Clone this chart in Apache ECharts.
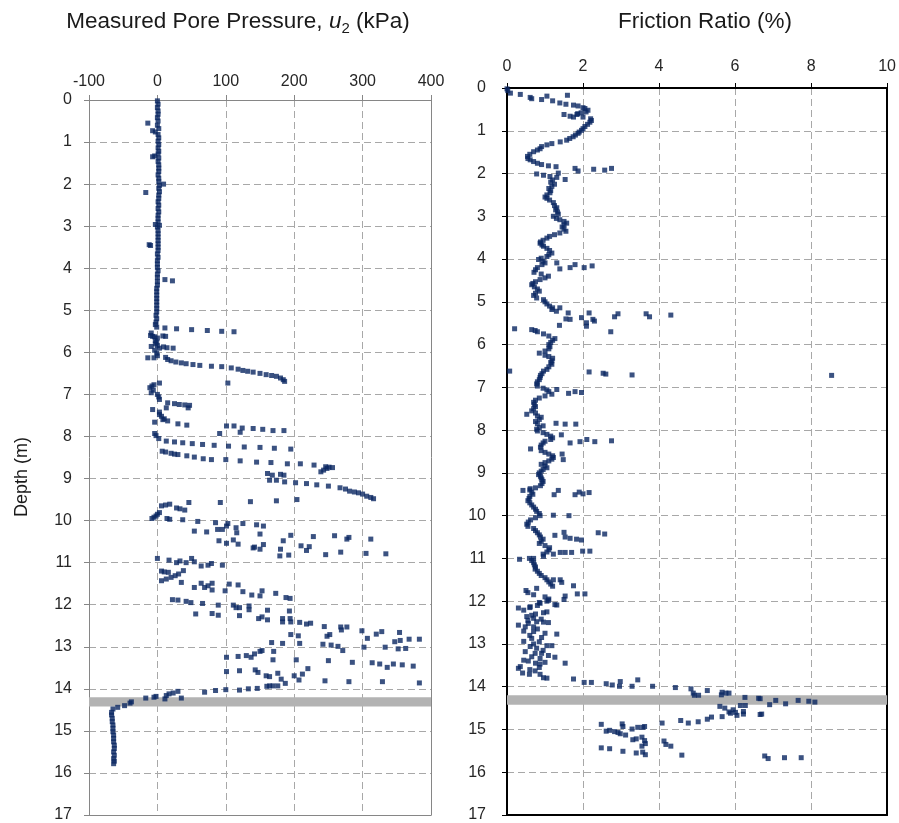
<!DOCTYPE html>
<html><head><meta charset="utf-8">
<script src="https://cdn.jsdelivr.net/npm/echarts@6/dist/echarts.min.js"></script>
<style>html,body{margin:0;padding:0;background:#fff}#c{width:899px;height:823px}</style>
</head><body><div id="c"></div>
<script>
// ---------- axis ticks ----------
const depthTicks = [0,1,2,3,4,5,6,7,8,9,10,11,12,13,14,15,16,17];
const u2Ticks = [-100,0,100,200,300,400];
const frTicks = [0,2,4,6,8,10];
const bandDepth = [14.2, 14.42];

// ---------- Measured pore pressure u2 [kPa, depth m] ----------
const u2Upper = [
[0,0.02],[1,0.1],[0,0.18],[1,0.26],[1,0.34],[0,0.42],[1,0.5],[-14,0.55],[0,0.6],[2,0.68],[-7,0.73],[-3,0.76],[1,0.82],[2,0.9],[1,0.98],[2,1.06],[1,1.14],[2,1.22],[1,1.28],[-4,1.33],[-7,1.35],[2,1.38],[1,1.46],[2,1.54],[2,1.62],[2,1.7],[1,1.78],[2,1.86],[2,1.94],[9,2.0],[3,2.03],[2,2.1],[-17,2.2],[3,2.18],[2,2.26],[2,2.34],[1,2.42],[2,2.5],[1,2.58],[2,2.66],[1,2.74],[1,2.82],[1,2.9],[-3,2.96],[3,2.98],[0,3.02],[1,3.1],[1,3.18],[1,3.26],[1,3.34],[-12,3.44],[-10,3.46],[1,3.42],[1,3.5],[1,3.58],[0,3.66],[1,3.74],[0,3.82],[0,3.9],[0,3.98],[1,4.06],[0,4.14],[0,4.22],[11,4.27],[22,4.3],[0,4.32],[0,4.4],[-1,4.48],[-1,4.56],[-1,4.64],[-1,4.72],[-1,4.8],[-1,4.88],[-1,4.96],[-1,5.04],[-2,5.12],[-1,5.2],[-2,5.28],[-3,5.34],[-1,5.4]
];
const u2Shallow = [
[11,5.42],[28,5.44],[50,5.46],[73,5.48],[94,5.5],[112,5.51],
[-9,5.54],[-10,5.6],[-7,5.62],[-4,5.63],[0,5.66],[8,5.61],[12,5.62],[-3,5.72],[-1,5.76],[-3,5.8],[0,5.84],[-9,5.86],[3,5.9],[-4,5.95],[9,5.87],[14,5.89],[23,5.9],[-1,6.02],[0,6.08],[-14,6.13],[-5,6.13],[12,6.12],[15,6.17],[20,6.2],[27,6.23],[35,6.25],[42,6.27],[52,6.29],[62,6.31],[79,6.33],[94,6.34],[108,6.37],[118,6.4],[125,6.43],[132,6.45],[140,6.47],[150,6.5],[159,6.53],[167,6.55],[174,6.57],[180,6.61],[184,6.65],[186,6.69],[103,6.73]
];
const u2Mid = [
[-11,6.84],[-8,6.8],[-5,6.77],[3,6.73],[-9,6.96],[-6,6.9],[0,7.0],[2,7.06],[3,7.12],[15,7.2],[25,7.22],[32,7.24],[40,7.25],[47,7.26],[45,7.32],[-7,7.36],[13,7.32],[3,7.42],[3,7.48],[6,7.52],[10,7.58],[8,7.6],[15,7.63],[-4,7.66],[30,7.7],[43,7.73],
[101,7.75],[112,7.75],[124,7.8],[121,7.9],[140,7.81],[154,7.83],[169,7.86],[185,7.86],[91,7.93],
[-4,7.93],[-2,7.98],[2,8.05],[13,8.11],[25,8.13],[37,8.15],[51,8.17],[66,8.19],[83,8.21],[104,8.23],[127,8.25],[150,8.26],[171,8.28],[195,8.3],
[7,8.35],[12,8.37],[20,8.4],[25,8.42],[30,8.43],[43,8.46],[54,8.49],[67,8.53],[79,8.55],[100,8.55],[121,8.58],[145,8.61],[166,8.62],[190,8.65],[209,8.65],[229,8.68],[246,8.72],[251,8.73],[256,8.74],[248,8.76],[243,8.8],[239,8.84]
];
const u2Deep = [
[161,8.88],[168,8.92],[180,8.9],[185,8.92],[164,9.04],[174,9.04],[186,9.08],[202,9.1],[218,9.12],[233,9.15],[250,9.18],[267,9.22],[275,9.25],[281,9.3],[288,9.32],[294,9.34],[300,9.37],[306,9.42],[312,9.45],[316,9.48],
[204,9.5],[174,9.53],[136,9.55],[92,9.57],[46,9.57],[18,9.61],[12,9.63],[6,9.65],[28,9.7],[33,9.72],[40,9.75],
[3,9.81],[0,9.85],[-2,9.89],[-5,9.92],[-8,9.95],[14,9.95],[18,9.97],
[37,9.98],[59,10.02],[85,10.05],[88,10.21],[95,10.21],[101,10.13],[103,10.07],[115,10.17],[116,10.29],[125,10.07],[145,10.1],[150,10.32],[155,10.13],[54,10.25],[72,10.27],[90,10.48],[101,10.54],[111,10.46],[118,10.56],[140,10.65],[142,10.63],[150,10.68],[155,10.57],[180,10.68],[184,10.48],[195,10.35],[210,10.6],[218,10.71],[222,10.62],[228,10.38],[246,10.81],[259,10.36],[268,10.75],[277,10.44],[280,10.4],[305,10.78],[312,10.44],[334,10.79],[179,10.84],[192,10.82]
];
const u2Lower = [
[0,10.9],[6,11.2],[10,11.22],[16,11.23],[17,10.94],[28,11.0],[33,10.96],[42,11.0],[50,10.9],[54,10.98],[64,11.08],[74,11.06],[79,11.02],[95,11.06],[26,11.31],[31,11.27],[38,11.19],[6,11.43],[13,11.39],[20,11.35],[35,11.47],[54,11.59],[64,11.49],[69,11.59],[74,11.55],[80,11.49],[80,11.65],[99,11.67],[105,11.51],[118,11.53],[125,11.69],[138,11.77],[150,11.79],[153,11.67],[173,11.73],[188,11.83],[194,11.85],
[22,11.88],[30,11.89],[42,11.92],[49,11.95],[66,11.97],[89,12.01],[56,12.22],[80,12.21],[89,12.25],[111,12.01],[115,12.07],[120,12.07],[134,12.03],[134,12.12],[120,12.26],[148,12.33],[153,12.29],[161,12.13],[161,12.36],[183,12.33],[183,12.41],[193,12.15],[194,12.33],[195,12.41],
[208,12.42],[218,12.46],[224,12.44],[244,12.52],[268,12.53],[269,12.6],[277,12.53],[299,12.62],[320,12.7],[328,12.64],[354,12.66],[195,12.71],[206,12.74],[248,12.75],[252,12.71],[307,12.8],[347,12.88],[355,12.85],[368,12.82],[383,12.82],[167,12.9],[183,12.92],[208,12.92],[242,12.94],[254,12.96],[264,12.99],[271,13.09],[302,13.01],[333,13.01],[352,13.05],[363,13.04],
[101,13.25],[118,13.23],[130,13.21],[137,13.25],[142,13.17],[150,13.11],[153,13.09],[170,13.11],[169,13.31],[203,13.31],[250,13.33],[285,13.37],[314,13.38],[325,13.41],[336,13.49],[345,13.41],[358,13.43],[374,13.46],[101,13.59],[120,13.57],[143,13.55],[147,13.61],[159,13.69],[164,13.71],[176,13.63],[181,13.77],[187,13.87],[200,13.69],[207,13.79],[212,13.65],[220,13.52],[245,13.81],[280,13.83],[329,13.83],[383,13.86],
[69,14.08],[85,14.04],[100,14.02],[120,14.03],[133,14.0],[146,13.99],[160,13.94],[164,13.93],[169,13.93],[176,13.93],
[30,14.06],[35,14.22],[11,14.24],[13,14.16],[17,14.12],[23,14.1],[-5,14.2],[-2,14.18],[-17,14.22],[-38,14.31],[-40,14.34],[-48,14.4],[-58,14.44],[-65,14.48],[-67,14.56]
];
const u2Base = [
[-67,14.62],[-66,14.7],[-66,14.78],[-65,14.86],[-65,14.94],[-65,15.02],[-64,15.1],[-64,15.18],[-64,15.26],[-63,15.34],[-63,15.42],[-64,15.5],[-63,15.58],[-64,15.66],[-63,15.72],[-64,15.78]
];

// ---------- Friction ratio [% , depth m] ----------
const frTop = [
[0,0.02],[0.02,0.06],[0.09,0.12],[0.35,0.15],[0.61,0.22],[0.65,0.25],[0.91,0.27],[1.05,0.19],[1.2,0.3],[1.39,0.35],[1.55,0.38],[1.59,0.17],[1.75,0.4],[1.87,0.42],[2.0,0.46],[2.05,0.48],[2.13,0.52],[2.08,0.56],[1.95,0.58],[1.86,0.6],[1.5,0.62],[1.66,0.66],[1.84,0.62],[2.0,0.68],[1.75,0.68],[2.2,0.72],[2.22,0.76],[2.18,0.8],[2.12,0.85],[2.05,0.9],[2.0,0.95],[1.96,0.99],[1.9,1.03],[1.87,1.06],[1.8,1.1],[1.74,1.14],[1.65,1.18],[1.57,1.22],[1.4,1.26],[1.18,1.3],[1.05,1.33],[0.91,1.37],[0.87,1.42],[0.8,1.45],[0.7,1.49],[0.6,1.55],[0.54,1.6],[0.55,1.65],[0.61,1.68],[0.7,1.72],[0.8,1.76],[0.91,1.79],[1.09,1.82],[1.29,1.84],[1.79,1.88],[1.87,1.94],[2.28,1.9],[2.57,1.92],[2.75,1.88],[0.78,2.01],[0.96,2.04],[1.13,2.07],[1.31,2.09],[1.35,1.99],[1.53,2.14]
];
const frMain = [
[1.2,2.15],[1.15,2.2],[1.25,2.25],[1.18,2.3],[1.1,2.35],[1.15,2.4],[1.13,2.45],[1.05,2.5],[1.0,2.55],[1.05,2.58],[1.12,2.62],[1.22,2.68],[1.25,2.75],[1.31,2.8],[1.28,2.85],[1.33,2.9],[1.35,2.95],[1.22,3.0],[1.3,3.05],[1.39,3.08],[1.5,3.12],[1.57,3.16],[1.5,3.2],[1.45,3.25],[1.5,3.3],[1.55,3.35],[1.39,3.39],[1.25,3.43],[1.12,3.47],[1.05,3.51],[0.95,3.56],[0.88,3.6],[0.87,3.63],[0.92,3.67],[0.96,3.7],[1.05,3.75],[1.12,3.8],[1.18,3.86],[1.1,3.9],[1.05,3.94],[0.9,3.98],[0.83,4.01],[0.95,4.05],[1.0,4.09],[0.92,4.13],[0.8,4.2],[0.75,4.25],[0.71,4.31],[0.9,4.35],[1.09,4.4],[1.0,4.44],[0.87,4.48],[0.75,4.53],[0.68,4.57],[0.65,4.6],[0.72,4.65],[0.8,4.7],[0.85,4.75],[0.75,4.8],[0.7,4.85],[0.78,4.91],[0.96,4.95],[1.0,5.0],[1.05,5.05],[1.12,5.1],[1.2,5.14],[1.18,5.18],[1.3,5.22],
[0.65,5.65],[0.74,5.67],[0.8,5.7],[0.96,5.75],[1.1,5.8],[1.26,5.86],[1.2,5.9],[1.15,5.95],[1.1,6.0],[1.13,6.05],[1.1,6.1],[1.0,6.15],[0.85,6.2],[1.0,6.25],[1.1,6.28],[1.2,6.32],[1.18,6.38],[1.15,6.42],[1.18,6.46],[1.1,6.52],[1.05,6.58],[0.96,6.62],[0.92,6.68],[0.88,6.72],[0.87,6.77],[0.85,6.82],[0.8,6.87],[0.78,6.92],[0.8,6.97],[0.95,7.02],[1.05,7.06],[1.1,7.1],[1.18,7.16],[1.0,7.2],[0.85,7.25],[0.75,7.3],[0.7,7.35],[0.72,7.4],[0.75,7.45],[0.7,7.5],[0.65,7.55],[0.75,7.6],[0.52,7.63],[0.8,7.67],[0.9,7.7],[0.85,7.75],[0.75,7.8],[0.8,7.85],[0.95,7.9],[0.85,7.94],[0.78,7.98],[0.8,8.02],[0.95,8.06],[1.05,8.1],[1.15,8.14],[1.2,8.18],[1.15,8.22],[1.0,8.26],[0.95,8.3],[0.9,8.35],[0.88,8.4],[0.62,8.44],[0.9,8.48],[1.0,8.52],[1.1,8.56],[1.2,8.6],[1.22,8.64],[1.18,8.68],[1.1,8.72],[1.0,8.76],[0.9,8.8],[1.0,8.84],[1.05,8.88],[0.95,8.92],[0.9,8.96],[0.85,9.0],[0.83,9.04],[0.88,9.08],[0.9,9.12],[0.92,9.16],[0.95,9.2],[0.92,9.25],[0.88,9.3],[0.75,9.35],[0.6,9.4],[0.65,9.45],[0.68,9.5],[0.6,9.55],[0.58,9.6],[0.55,9.65],[0.6,9.7],[0.65,9.75],[0.7,9.8],[0.75,9.85],[0.78,9.9],[0.85,9.95],[0.87,10.0],[0.75,10.05],[0.62,10.1],[0.56,10.15],[0.52,10.2],[0.55,10.25],[0.7,10.3],[0.75,10.35],[0.8,10.4],[0.85,10.45],[0.88,10.5],[0.95,10.55],[0.9,10.6],[0.85,10.65],[1.0,10.7],[1.12,10.75],[1.1,10.8],[1.05,10.85],[0.95,10.9],[0.96,10.95],[0.7,11.0],[0.65,11.05],[0.7,11.1],[0.72,11.15],[0.75,11.2],[0.74,11.25],[0.8,11.3],[0.85,11.35],[0.9,11.4],[1.0,11.45],[1.05,11.5],[1.1,11.55],[1.15,11.6],[1.2,11.65],[0.78,11.7],[0.5,11.75],[0.55,11.8],[0.7,11.85],[1.0,11.9],[1.1,11.95],[1.05,12.0],[0.87,12.05],[0.8,12.1]
];
const frSpikes = [
[1.31,4.09],[1.39,4.23],[1.66,4.2],[1.79,4.13],[2.03,4.2],[2.24,4.16],
[1.39,5.14],[1.61,5.26],[2.16,5.26],[1.96,5.37],[1.55,5.4],[1.66,5.41],[2.26,5.41],[2.3,5.45],[2.09,5.49],[2.09,5.57],[1.38,5.55],[2.83,5.35],[2.92,5.28],[3.66,5.28],[3.75,5.35],[4.31,5.31],[2.73,5.7],[0.2,5.63],
[2.16,6.64],[2.53,6.67],[2.6,6.69],[3.29,6.71],[0.07,6.62],[8.54,6.72],
[1.31,7.05],[1.62,7.14],[1.79,7.1],[1.96,7.12],
[1.29,7.84],[1.53,7.86],[1.81,7.86],
[1.43,8.11],[1.66,8.3],[1.92,8.27],[2.1,8.22],[2.31,8.27],[2.75,8.25],
[1.45,8.56],[1.48,8.69],
[0.42,9.41],[0.61,9.37],[1.24,9.51],[1.35,9.41],[1.79,9.51],[1.9,9.45],[2.0,9.49],[2.16,9.46],
[1.22,9.99],[1.63,10.0],
[1.26,10.46],[1.5,10.39],[1.53,10.5],[1.66,10.53],[1.83,10.55],[1.96,10.57],[2.4,10.4],[2.57,10.43],
[1.4,10.86],[1.53,10.86],[1.7,10.86],[1.99,10.83],[2.18,10.83],[1.22,10.9],
[0.33,11.02],[0.59,11.0],
[1.22,11.5],[1.4,11.5],[1.44,11.56],[1.75,11.64],[1.85,11.83],[2.05,11.83],[1.53,11.88],[1.31,12.09]
];
const frCluster = [
[0.3,12.16],[0.44,12.21],[0.61,12.13],[0.85,12.03],[1.09,11.98],[1.26,12.08],[1.5,11.96],[0.96,12.27],[1.05,12.25],[0.52,12.36],[0.65,12.33],[0.7,12.4],[0.78,12.48],[0.96,12.49],[1.09,12.5],[0.3,12.56],[0.44,12.7],[0.48,12.6],[0.56,12.52],[0.7,12.6],[0.7,12.71],[1.0,12.75],[0.91,12.85],[1.31,12.77],[0.65,12.87],[0.44,12.94],[0.61,13.06],[0.78,13.1],[0.74,13.22],[1.05,13.04],[1.18,13.04],[0.91,13.22],[0.87,13.34],[0.48,13.18],[1.09,13.27],[1.26,13.31],[0.44,13.38],[0.56,13.4],[1.0,13.43],[0.87,13.47],[1.53,13.45],[0.35,13.53],[0.3,13.57],[0.41,13.68],[0.59,13.71],[0.74,13.63],[0.87,13.71],[0.96,13.79],[1.05,13.8],
[0.6,12.15],[0.75,12.3],[0.9,12.42],[0.55,12.45],[0.8,12.65],[0.6,12.8],[0.85,12.95],[0.7,13.0],[0.95,13.15],[0.65,13.3],[0.75,13.45],[0.6,13.6],[0.85,13.55]
];
const frDeep = [
[1.75,13.82],[2.03,13.9],[2.22,13.9],[2.61,13.93],[2.77,13.96],[2.98,13.88],[2.96,13.99],[3.29,13.99],[3.44,13.84],[3.83,13.99],[4.43,14.02],[4.84,14.05],[4.9,14.15],[4.93,14.2],[5.04,14.2],[5.27,14.09],[5.64,14.19],[5.66,14.13],[5.76,14.15],[5.84,14.15],[6.26,14.25],[6.62,14.27],[6.66,14.28],[6.91,14.42],[7.07,14.32],[7.33,14.4],[7.66,14.32],[7.94,14.34],[8.1,14.36],
[5.6,14.46],[5.73,14.5],[5.84,14.59],[5.95,14.54],[6.01,14.6],[5.88,14.62],[6.14,14.44],[6.27,14.44],[6.05,14.67],[6.22,14.58],[6.22,14.64],[6.66,14.65],[6.7,14.64],[5.66,14.7],[5.27,14.76],[5.38,14.71],[5.03,14.82],[4.77,14.85],[4.57,14.79],[4.08,14.85],
[2.48,14.88],[2.61,15.04],[2.7,15.02],[2.83,15.05],[2.92,15.07],[3.03,14.87],[3.05,14.93],[3.29,14.99],[3.44,14.95],[3.57,14.95],[3.62,14.93],[2.98,15.1],[3.12,15.13],[3.31,15.24],[3.4,15.22],[3.55,15.18],[3.62,15.26],[3.64,15.33],[3.55,15.39],[4.13,15.27],[4.18,15.35],[4.31,15.39],[2.48,15.43],[2.7,15.45],[3.05,15.51],[3.4,15.55],[3.57,15.53],[3.64,15.59],[4.6,15.6],[6.78,15.62],[6.87,15.68],[7.3,15.66],[7.74,15.66]
];

// ---------- chart ----------
const MARK = '#0a2762';
const FONT = '"Liberation Sans", Arial, sans-serif';
const GRIDC = '#a8a8a8';
const chart = echarts.init(document.getElementById('c'), null, {renderer: 'canvas'});

function split() {
  return {show: true, showMinLine: false, showMaxLine: false, lineStyle: {color: GRIDC, width: 1, type: [7, 4]}};
}
function xAxisCfg(grid, ticks, lineColor, lineWidth, margin) {
  return {
    type: 'value', gridIndex: grid, position: 'top',
    min: ticks[0], max: ticks[ticks.length - 1], interval: ticks[1] - ticks[0],
    axisLine: {show: true, onZero: false, lineStyle: {color: lineColor, width: lineWidth}},
    axisTick: {show: true, inside: false, length: 5, lineStyle: {color: lineColor, width: 1}},
    axisLabel: {color: '#262626', fontSize: 16, fontFamily: FONT, margin: margin},
    splitLine: split()
  };
}
function xEdge(grid, ticks, lineColor, lineWidth) {
  return {
    type: 'value', gridIndex: grid, position: 'bottom',
    min: ticks[0], max: ticks[ticks.length - 1], interval: ticks[1] - ticks[0],
    axisLine: {show: true, onZero: false, lineStyle: {color: lineColor, width: lineWidth}},
    axisTick: {show: false}, axisLabel: {show: false}, splitLine: {show: false}
  };
}
function yAxisCfg(grid, lineColor, lineWidth, margin) {
  return {
    type: 'value', gridIndex: grid, inverse: true, position: 'left',
    min: depthTicks[0], max: depthTicks[depthTicks.length - 1], interval: depthTicks[1] - depthTicks[0],
    axisLine: {show: true, onZero: false, lineStyle: {color: lineColor, width: lineWidth}},
    axisTick: {show: true, inside: false, length: 5, lineStyle: {color: lineColor, width: 1}},
    axisLabel: {color: '#262626', fontSize: 16, fontFamily: FONT, margin: margin},
    splitLine: split()
  };
}
function yEdge(grid, lineColor, lineWidth) {
  return {
    type: 'value', gridIndex: grid, inverse: true, position: 'right',
    min: depthTicks[0], max: depthTicks[depthTicks.length - 1], interval: depthTicks[1] - depthTicks[0],
    axisLine: {show: true, onZero: false, lineStyle: {color: lineColor, width: lineWidth}},
    axisTick: {show: false}, axisLabel: {show: false}, splitLine: {show: false}
  };
}
function pts(xi, data) {
  return {type: 'scatter', xAxisIndex: xi, yAxisIndex: xi, data: data, symbol: 'rect', symbolSize: 5,
          itemStyle: {color: MARK}, z: 5, silent: true};
}
function band(xi) {
  return {type: 'scatter', xAxisIndex: xi, yAxisIndex: xi, data: [], z: 1, silent: true,
          markArea: {silent: true, itemStyle: {color: '#b3b3b3', opacity: 1},
                     data: [[{yAxis: bandDepth[0]}, {yAxis: bandDepth[1]}]]}};
}

chart.setOption({
  animation: false,
  backgroundColor: '#fff',
  grid: [
    {left: 89, top: 100, width: 342, height: 716},
    {left: 507, top: 88, width: 382, height: 729}
  ],
  xAxis: [xAxisCfg(0, u2Ticks, '#868686', 1, 10), xAxisCfg(1, frTicks, '#000', 2, 13),
          xEdge(0, u2Ticks, '#868686', 1), xEdge(1, frTicks, '#000', 2)],
  yAxis: [yAxisCfg(0, '#868686', 1, 17), yAxisCfg(1, '#000', 2, 21),
          yEdge(0, '#868686', 1), yEdge(1, '#000', 2)],
  graphic: [
    {type: 'text', x: 238, y: 22, silent: true, style: {
      text: '{n|Measured Pore Pressure, }{i|u}{s|2}{n| (kPa)}', align: 'center', verticalAlign: 'middle',
      rich: {
        n: {fontSize: 22.5, fontFamily: FONT, fill: '#1a1a1a', lineHeight: 28, verticalAlign: 'middle'},
        i: {fontSize: 22.5, fontFamily: FONT, fontStyle: 'italic', fill: '#1a1a1a', lineHeight: 28, verticalAlign: 'middle'},
        s: {fontSize: 15, fontFamily: FONT, fill: '#1a1a1a', lineHeight: 20, verticalAlign: 'bottom'}
      }}},
    {type: 'text', x: 705, y: 22, silent: true, style: {
      text: 'Friction Ratio (%)', align: 'center', verticalAlign: 'middle',
      fontSize: 22.5, fontFamily: FONT, fill: '#1a1a1a'}},
    {type: 'text', x: 22, y: 477, rotation: Math.PI / 2, silent: true, style: {
      text: 'Depth (m)', align: 'center', verticalAlign: 'middle',
      fontSize: 18, fontFamily: FONT, fill: '#1a1a1a'}}
  ],
  series: [
    band(0), band(1),
    pts(0, u2Upper), pts(0, u2Shallow), pts(0, u2Mid), pts(0, u2Deep), pts(0, u2Lower), pts(0, u2Base),
    pts(1, frTop), pts(1, frMain), pts(1, frSpikes), pts(1, frCluster), pts(1, frDeep)
  ]
});
</script>
</body></html>
